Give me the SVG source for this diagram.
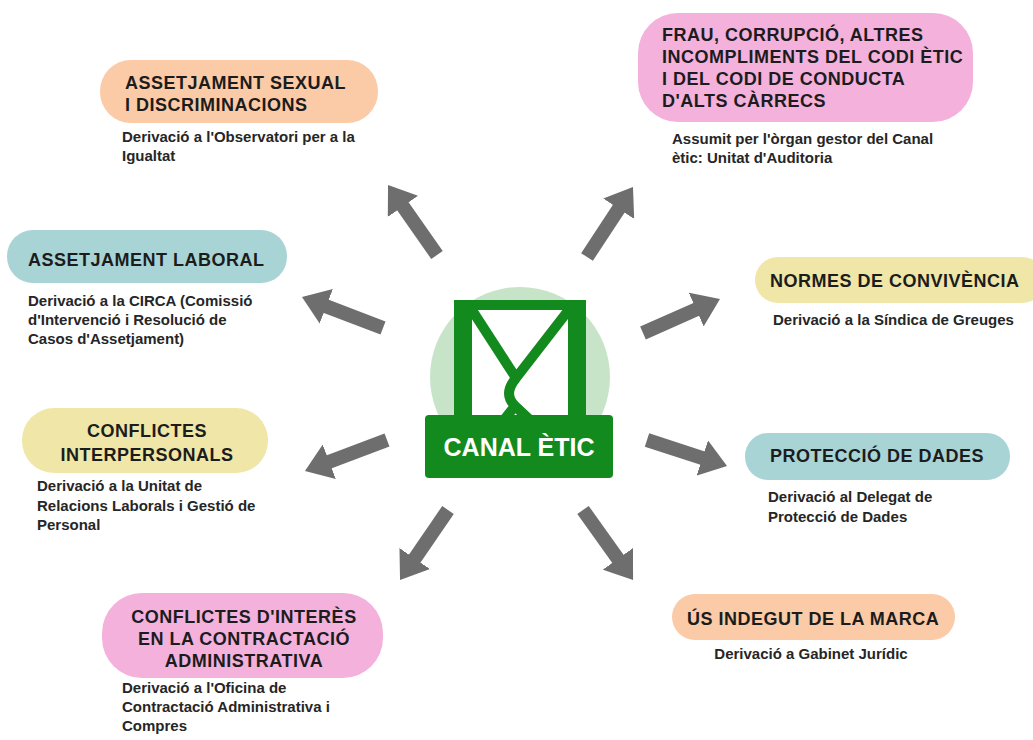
<svg xmlns="http://www.w3.org/2000/svg" width="1033" height="740" viewBox="0 0 1033 740">
<style>
.h{font-family:"Liberation Sans",Arial,sans-serif;font-weight:700;font-size:18px;letter-spacing:0.5px;fill:#1c1c1c}
.d{font-family:"Liberation Sans",Arial,sans-serif;font-weight:700;font-size:15px;fill:#262626}
.c{text-anchor:middle}
.peach{fill:#fbcaa7}
.pink{fill:#f3b1dc}
.teal{fill:#a9d4d6}
.yellow{fill:#efe6a7}
.conn{stroke:#6e6e6e;stroke-width:14;fill:none;marker-end:url(#ah)}
</style>
<defs>
<marker id="ah" viewBox="0 0 26 37" markerWidth="26" markerHeight="37" refX="2" refY="18.5" orient="auto" markerUnits="userSpaceOnUse">
<path d="M0,0 L26,18.5 L0,37 Z" fill="#6e6e6e"/>
</marker>
</defs>
<rect width="1033" height="740" fill="#ffffff"/>

<g id="connectors">
<line class="conn" x1="437" y1="255" x2="401.8" y2="204.7"/>
<line class="conn" x1="587" y1="257" x2="619.8" y2="207.1"/>
<line class="conn" x1="383" y1="328" x2="324.4" y2="305.6"/>
<line class="conn" x1="387" y1="440" x2="327.4" y2="462.5"/>
<line class="conn" x1="448" y1="510" x2="413.6" y2="560.2"/>
<line class="conn" x1="583" y1="510" x2="619.1" y2="560.5"/>
<line class="conn" x1="643" y1="333" x2="698" y2="308.7"/>
<line class="conn" x1="647" y1="440" x2="704.2" y2="458.6"/>
</g>

<g id="canal-etic">
<circle cx="520" cy="377" r="90" fill="#c8e4c8"/>
<rect x="454" y="300" width="132" height="120" fill="#128a1e"/>
<rect x="472" y="310" width="96" height="110" fill="#ffffff"/>
<path d="M470,307 L516,378 M571,307 L516,378 C507,389 507,398 515,406 M515,406 L503,421 M515,406 L531,421" fill="none" stroke="#128a1e" stroke-width="10" stroke-linejoin="round"/>
<rect x="425" y="415" width="188" height="63" rx="4" fill="#128a1e"/>
<text x="519" y="456" class="c" font-family="'Liberation Sans',Arial,sans-serif" font-weight="700" font-size="25" fill="#ffffff">CANAL ÈTIC</text>
</g>

<g id="assetjament-sexual">
<rect x="100" y="60" width="278" height="63" rx="31" class="peach"/>
<text class="h" x="125" y="89">ASSETJAMENT SEXUAL</text>
<text class="h" x="125" y="111">I DISCRIMINACIONS</text>
<text class="d" x="122" y="142">Derivació a l'Observatori per a la</text>
<text class="d" x="122" y="161">Igualtat</text>
</g>

<g id="frau">
<rect x="638" y="13" width="335" height="109" rx="40" class="pink"/>
<text class="h" x="662" y="41">FRAU, CORRUPCIÓ, ALTRES</text>
<text class="h" x="662" y="63">INCOMPLIMENTS DEL CODI ÈTIC</text>
<text class="h" x="662" y="85">I DEL CODI DE CONDUCTA</text>
<text class="h" x="662" y="107">D'ALTS CÀRRECS</text>
<text class="d" x="672" y="144">Assumit per l'òrgan gestor del Canal</text>
<text class="d" x="672" y="163">ètic: Unitat d'Auditoria</text>
</g>

<g id="assetjament-laboral">
<rect x="7" y="230" width="280" height="53" rx="26" class="teal"/>
<text class="h" x="28" y="266">ASSETJAMENT LABORAL</text>
<text class="d" x="28" y="306">Derivació a la CIRCA (Comissió</text>
<text class="d" x="28" y="325">d'Intervenció i Resolució de</text>
<text class="d" x="28" y="344">Casos d'Assetjament)</text>
</g>

<g id="normes">
<rect x="755" y="257" width="290" height="46" rx="23" class="yellow"/>
<text class="h" x="770" y="287">NORMES DE CONVIVÈNCIA</text>
<text class="d" x="773" y="325">Derivació a la Síndica de Greuges</text>
</g>

<g id="conflictes-interpersonals">
<rect x="22" y="408" width="246" height="65" rx="32" class="yellow"/>
<text class="h c" x="147" y="437">CONFLICTES</text>
<text class="h c" x="147" y="461">INTERPERSONALS</text>
<text class="d" x="37" y="491">Derivació a la Unitat de</text>
<text class="d" x="37" y="511">Relacions Laborals i Gestió de</text>
<text class="d" x="37" y="530">Personal</text>
</g>

<g id="proteccio-dades">
<rect x="745" y="433" width="265" height="47" rx="23" class="teal"/>
<text class="h" x="770" y="462">PROTECCIÓ DE DADES</text>
<text class="d" x="768" y="502">Derivació al Delegat de</text>
<text class="d" x="768" y="522">Protecció de Dades</text>
</g>

<g id="conflictes-interes">
<rect x="102" y="593" width="281" height="85" rx="40" class="pink"/>
<text class="h c" x="244" y="623">CONFLICTES D'INTERÈS</text>
<text class="h c" x="244" y="645">EN LA CONTRACTACIÓ</text>
<text class="h c" x="244" y="667">ADMINISTRATIVA</text>
<text class="d" x="122" y="693">Derivació a l'Oficina de</text>
<text class="d" x="122" y="712">Contractació Administrativa i</text>
<text class="d" x="122" y="731">Compres</text>
</g>

<g id="us-indegut">
<rect x="672" y="594" width="283" height="46" rx="23" class="peach"/>
<text class="h" x="687" y="625">ÚS INDEGUT DE LA MARCA</text>
<text class="d c" x="811" y="659">Derivació a Gabinet Jurídic</text>
</g>
</svg>
